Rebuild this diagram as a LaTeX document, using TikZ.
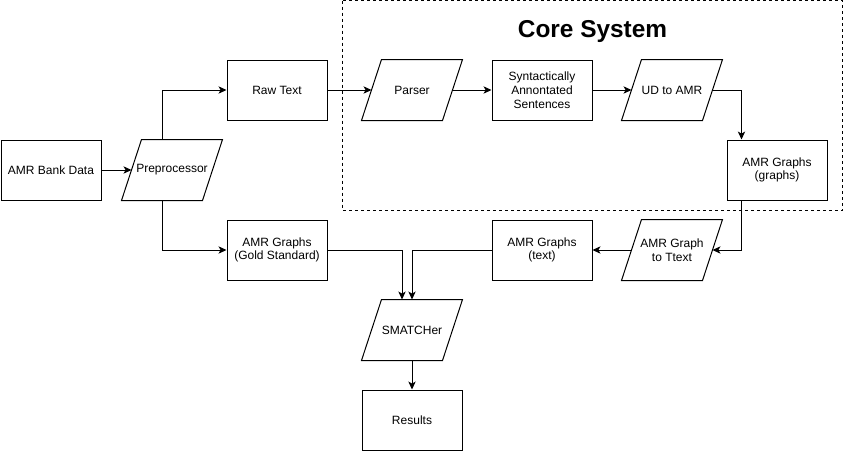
\documentclass[tikz,border=0pt]{standalone}
\usepackage{fontspec}
\setmainfont{Liberation Sans}
\usetikzlibrary{arrows.meta,calc}
\begin{document}
\begin{tikzpicture}[x=0.75pt,y=-0.75pt,
  every path/.style={line width=0.75pt},
  box/.style={draw, minimum width=75pt, minimum height=45pt, inner sep=0pt, align=center, font=\fontsize{9}{10.3}\selectfont},
  para/.style={minimum width=75pt, minimum height=45pt, inner sep=0pt, align=center, font=\fontsize{9}{10.3}\selectfont},
  arr/.style={-{Stealth[length=6pt,width=5.5pt,inset=1.6pt]}},
  frame/.style={dash pattern=on 2.25pt off 2.25pt}
]
\useasboundingbox (0,0) rectangle (843,451);
% core system frame
\draw[frame] (342.5,0.5) rectangle (842.5,210) ;
\node[font=\fontsize{18.3}{21}\selectfont\bfseries] (title) at (592.5,31.5) {Core System};
% rectangles
\node[box] (bank) at (51,170) {AMR Bank Data};
\node[box] (raw) at (277,90) {Raw Text};
\node[box] (syn) at (542,90) {Syntactically\\Annontated\\Sentences};
\node[box] (gg) at (777,170) {AMR Graphs\\(graphs)};
\node[box] (gt) at (542,250) {AMR Graphs\\(text)};
\node[box] (gold) at (277,250) {AMR Graphs\\(Gold Standard)};
\node[box] (res) at (412,420) {Results};
% parallelograms
\node[para] (pre) at (172,170) {Preprocessor};
\node[para] (parser) at (412,90) {Parser};
\node[para] (ud) at (672,90) {UD to AMR};
\node[para] (g2t) at (672,250) {AMR Graph\\to Ttext};
\node[para] (sm) at (412,330) {SMATCHer};
\foreach \n in {pre,parser,ud,g2t,sm}{
  \draw ($(\n.north west)+(20,0)$) -- (\n.north east) -- ($(\n.south east)+(-20,0)$) -- (\n.south west) -- cycle;
}
% connectors
\draw[arr] (bank.east) -- ($(pre.west)+(10,0)$);
\draw[arr] ($(pre.north)+(-10,0)$) |- (raw.west);
\draw[arr] ($(pre.south)+(-10,0)$) |- (gold.west);
\draw[arr] (raw.east) -- ($(parser.west)+(10,0)$);
\draw[arr] ($(parser.east)+(-10,0)$) -- (syn.west);
\draw[arr] (syn.east) -- ($(ud.west)+(10,0)$);
\draw[arr] ($(ud.east)+(-10,0)$) -| ($(gg.north west)+(15,0)$);
\draw[arr] ($(gg.south west)+(15,0)$) |- ($(g2t.east)+(-10,0)$);
\draw[arr] ($(g2t.west)+(10,0)$) -- (gt.east);
\draw[arr] (gt.west) -| (sm.north);
\draw[arr] (gold.east) -| ($(sm.north)+(-10,0)$);
\draw[arr] (sm.south) -- (res.north);
\end{tikzpicture}
\end{document}
